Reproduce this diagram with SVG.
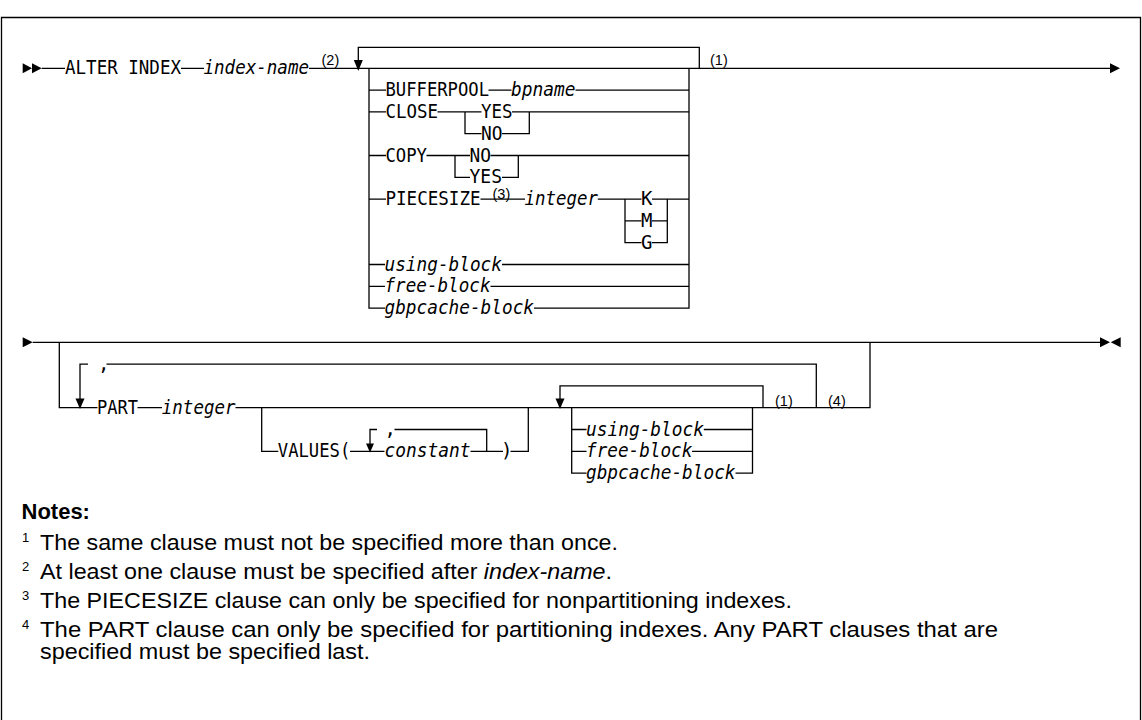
<svg xmlns="http://www.w3.org/2000/svg" width="1142" height="720" viewBox="0 0 1142 720">
<style>
.ln{stroke:#000;stroke-width:1.3;fill:none}
.ar{fill:#000;stroke:none}
.m{font-family:"DejaVu Sans Mono","Liberation Mono",monospace;font-size:19px;fill:#000}
.i{font-style:italic}
.c{text-anchor:middle}
.sup{font-family:"Liberation Sans",Arial,sans-serif;font-size:14.5px;fill:#000}
.nt{font-family:"Liberation Sans",Arial,sans-serif;font-size:21.5px;fill:#000}
.nh{font-family:"Liberation Sans",Arial,sans-serif;font-size:22px;font-weight:bold;fill:#000}
.ns{font-family:"Liberation Sans",Arial,sans-serif;font-size:13px;fill:#000}
</style>
<rect width="1142" height="720" fill="#fff"/>
<path class="ln" d="M1.5,720 V17.5 H1140.5 V720"/>

<g id="connectors">
  <!-- line 1 -->
  <polygon class="ar" points="22.7,63.3 32,68.3 22.7,73.3"/>
  <polygon class="ar" points="32,63.3 41.7,68.3 32,73.3"/>
  <path class="ln" d="M41.7,68.3 H65 M181,68.3 H204 M309,68.3 H1110"/>
  <polygon class="ar" points="1110,63.3 1120,68.3 1110,73.3"/>
  <!-- repeat loop -->
  <path class="ln" d="M699.3,68.3 V47.3 H358.3 V61"/>
  <polygon class="ar" points="353.8,60 362.8,60 358.3,71"/>
  <!-- choice block 1 -->
  <path class="ln" d="M369,68.3 V308.1 H385 M689,68.3 V308.1 H534"/>
  <path class="ln" d="M369,90.1 H386 M488.5,90.1 H511.5 M575.5,90.1 H689"/>
  <path class="ln" d="M369,111.9 H386 M437.5,111.9 H481.5 M512,111.9 H689"/>
  <path class="ln" d="M465,111.9 V133.7 H481.5 M502,133.7 H529.3 V111.9"/>
  <path class="ln" d="M369,155.5 H386 M426.5,155.5 H470 M490.5,155.5 H689"/>
  <path class="ln" d="M455,155.5 V177.3 H470 M502,177.3 H518.3 V155.5"/>
  <path class="ln" d="M369,199.1 H386 M480.5,199.1 H525 M597.8,199.1 H641.5 M652,199.1 H689"/>
  <path class="ln" d="M625,199.1 V242.7 H641.5 M625,220.9 H641.5 M652,220.9 H667.3 M652,242.7 H667.3 V199.1"/>
  <path class="ln" d="M369,264.5 H385 M502,264.5 H689"/>
  <path class="ln" d="M369,286.3 H385 M490.5,286.3 H689"/>

  <!-- line 2 -->
  <polygon class="ar" points="22.7,337.3 32.7,342.3 22.7,347.3"/>
  <path class="ln" d="M32.7,342.3 H1100"/>
  <polygon class="ar" points="1100,337.3 1110,342.3 1100,347.3"/>
  <polygon class="ar" points="1120.7,337.3 1110.7,342.3 1120.7,347.3"/>
  <!-- optional branch -->
  <path class="ln" d="M59.3,342.3 V407.7 H97.5 M137.5,407.7 H162 M235.5,407.7 H870 V342.3"/>
  <!-- outer comma loop -->
  <path class="ln" d="M816.3,407.7 V364.1 H106.5 M88,364.1 H80 V399"/>
  <polygon class="ar" points="75.5,398.5 84.5,398.5 80,409"/>
  <!-- VALUES optional -->
  <path class="ln" d="M261.7,407.7 V451.3 H278.3 M350,451.3 H384.5 M470.5,451.3 H503 M510.5,451.3 H528.3 V407.7"/>
  <path class="ln" d="M486.7,451.3 V429.5 H394.5 M377,429.5 H370 V444"/>
  <polygon class="ar" points="366,443.5 374,443.5 370,452.5"/>
  <!-- inner repeat loop -->
  <path class="ln" d="M763,407.7 V385.9 H560 V399"/>
  <polygon class="ar" points="555.5,398.5 564.5,398.5 560,409"/>
  <!-- inner choice block -->
  <path class="ln" d="M571.7,407.7 V473.1 H586.5 M752.5,407.7 V473.1 H735.5"/>
  <path class="ln" d="M571.7,429.5 H586.5 M703.8,429.5 H752.5"/>
  <path class="ln" d="M571.7,451.3 H586.5 M692,451.3 H752.5"/>
</g>

<g id="n-alter-index"><text class="m" x="65" y="74.3" textLength="116" lengthAdjust="spacingAndGlyphs">ALTER INDEX</text></g>
<g id="n-index-name"><text class="m i" x="203.5" y="74.3" textLength="105.5" lengthAdjust="spacingAndGlyphs">index-name</text></g>
<g id="n-note2-ref"><text class="sup" x="321.5" y="65">(2)</text></g>
<g id="n-note1-ref"><text class="sup" x="710" y="65">(1)</text></g>

<g id="n-bufferpool"><text class="m" x="385.5" y="96.1" textLength="103.5" lengthAdjust="spacingAndGlyphs">BUFFERPOOL</text></g>
<g id="n-bpname"><text class="m i" x="511" y="96.1" textLength="64.5" lengthAdjust="spacingAndGlyphs">bpname</text></g>
<g id="n-close"><text class="m" x="385.5" y="117.9" textLength="52.5" lengthAdjust="spacingAndGlyphs">CLOSE</text></g>
<g id="n-close-yes"><text class="m" x="481" y="117.9" textLength="31.5" lengthAdjust="spacingAndGlyphs">YES</text></g>
<g id="n-close-no"><text class="m" x="481" y="139.7" textLength="21.5" lengthAdjust="spacingAndGlyphs">NO</text></g>
<g id="n-copy"><text class="m" x="385.5" y="161.5" textLength="41.5" lengthAdjust="spacingAndGlyphs">COPY</text></g>
<g id="n-copy-no"><text class="m" x="469.5" y="161.5" textLength="21.5" lengthAdjust="spacingAndGlyphs">NO</text></g>
<g id="n-copy-yes"><text class="m" x="469.5" y="183.3" textLength="32.5" lengthAdjust="spacingAndGlyphs">YES</text></g>
<g id="n-piecesize"><text class="m" x="385.5" y="205.1" textLength="95" lengthAdjust="spacingAndGlyphs">PIECESIZE</text></g>
<g id="n-note3-ref"><text class="sup" x="492.5" y="199" font-size="12.5">(3)</text></g>
<g id="n-integer1"><text class="m i" x="524.5" y="205.1" textLength="73.5" lengthAdjust="spacingAndGlyphs">integer</text></g>
<g id="n-k"><text class="m c" x="646.7" y="205.1">K</text></g>
<g id="n-m"><text class="m c" x="646.7" y="226.9">M</text></g>
<g id="n-g"><text class="m c" x="646.7" y="248.7">G</text></g>
<g id="n-using-block1"><text class="m i" x="384.5" y="270.5" textLength="117.5" lengthAdjust="spacingAndGlyphs">using-block</text></g>
<g id="n-free-block1"><text class="m i" x="384.5" y="292.3" textLength="106" lengthAdjust="spacingAndGlyphs">free-block</text></g>
<g id="n-gbpcache-block1"><text class="m i" x="384.5" y="314.1" textLength="149.5" lengthAdjust="spacingAndGlyphs">gbpcache-block</text></g>

<g id="n-comma-part"><text class="m" x="98" y="369.5">,</text></g>
<g id="n-part"><text class="m" x="97" y="413.7" textLength="41" lengthAdjust="spacingAndGlyphs">PART</text></g>
<g id="n-integer2"><text class="m i" x="161.8" y="413.7" textLength="73.7" lengthAdjust="spacingAndGlyphs">integer</text></g>
<g id="n-values"><text class="m" x="277.8" y="457.3" textLength="72.5" lengthAdjust="spacingAndGlyphs">VALUES(</text></g>
<g id="n-comma-values"><text class="m" x="384.5" y="434.8">,</text></g>
<g id="n-constant"><text class="m i" x="384.5" y="457.3" textLength="86" lengthAdjust="spacingAndGlyphs">constant</text></g>
<g id="n-rparen"><text class="m c" x="506.7" y="457.3">)</text></g>
<g id="n-note1-ref2"><text class="sup" x="775" y="405.5">(1)</text></g>
<g id="n-note4-ref"><text class="sup" x="828" y="405.5">(4)</text></g>
<g id="n-using-block2"><text class="m i" x="586" y="435.5" textLength="118" lengthAdjust="spacingAndGlyphs">using-block</text></g>
<g id="n-free-block2"><text class="m i" x="586" y="457.3" textLength="106.3" lengthAdjust="spacingAndGlyphs">free-block</text></g>
<g id="n-gbpcache-block2"><text class="m i" x="586" y="479.1" textLength="149.5" lengthAdjust="spacingAndGlyphs">gbpcache-block</text></g>

<g id="notes">
  <text class="nh" x="21.5" y="519">Notes:</text>
  <text class="ns" x="22" y="542">1</text>
  <text class="nt" x="40" y="549.5" textLength="578" lengthAdjust="spacingAndGlyphs">The same clause must not be specified more than once.</text>
  <text class="ns" x="22" y="571">2</text>
  <text class="nt" x="40" y="578.5" textLength="572" lengthAdjust="spacingAndGlyphs">At least one clause must be specified after <tspan font-style="italic">index-name</tspan>.</text>
  <text class="ns" x="22" y="600">3</text>
  <text class="nt" x="40" y="607.5" textLength="752" lengthAdjust="spacingAndGlyphs">The PIECESIZE clause can only be specified for nonpartitioning indexes.</text>
  <text class="ns" x="22" y="629">4</text>
  <text class="nt" x="40" y="636.5" textLength="958" lengthAdjust="spacingAndGlyphs">The PART clause can only be specified for partitioning indexes. Any PART clauses that are</text>
  <text class="nt" x="40" y="658.5" textLength="330" lengthAdjust="spacingAndGlyphs">specified must be specified last.</text>
</g>
</svg>
